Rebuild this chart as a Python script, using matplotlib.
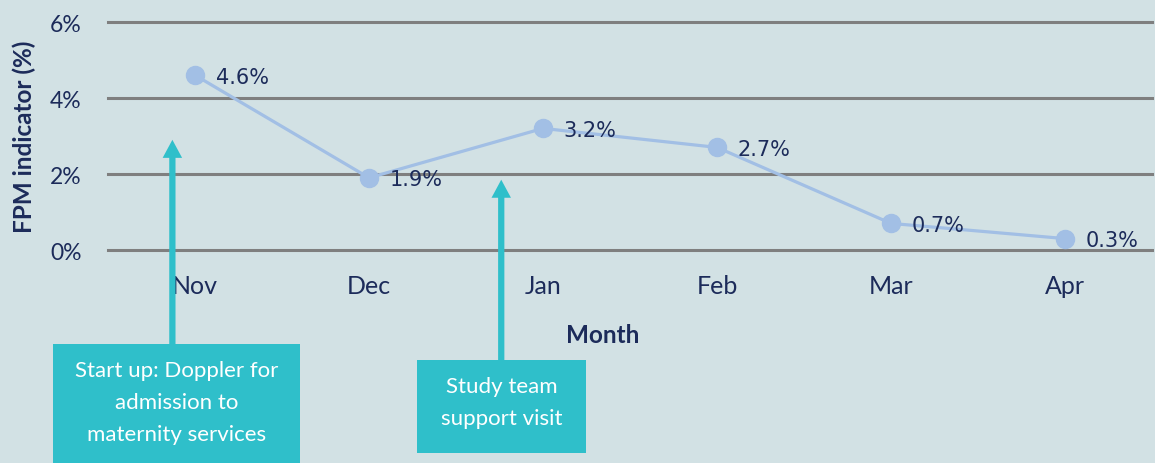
import matplotlib
matplotlib.use("Agg")
import matplotlib.pyplot as plt
from matplotlib.patches import Rectangle
from matplotlib.ticker import FuncFormatter
from matplotlib.transforms import blended_transform_factory

months = ["Nov", "Dec", "Jan", "Feb", "Mar", "Apr"]
fpm = [4.6, 1.9, 3.2, 2.7, 0.7, 0.3]
yticks = [0, 2, 4, 6]

# annotation: text, month it points near, arrow tip value
notes = ["Start up: Doppler for\nadmission to\nmaternity services", "Study team\nsupport visit"]
note_month = [0, 2]
note_tip = [2.9, 1.85]

bg = "#d2e1e4"
navy = "#1c2b5a"
teal = "#2fbfca"
line_col = "#a2bfe5"

W, H = 1155, 464
fig = plt.figure(figsize=(W / 100, H / 100), dpi=100, facecolor=bg)
ax = fig.add_axes([108 / W, 1 - 251 / H, 1044 / W, 228 / H], facecolor=bg)

x = list(range(len(months)))
for yv in yticks:
    ax.axhline(yv, color="#7f7f7f", lw=2.2, zorder=1, clip_on=False)
ax.plot(x, fpm, color=line_col, lw=2.3, marker="o", ms=13, zorder=3)
for xi, v in zip(x, fpm):
    ax.annotate(f"{v}%", (xi, v), xytext=(15, -1), textcoords="offset points",
                ha="left", va="center", fontsize=15, color=navy,
                family="DejaVu Sans", zorder=4)

ax.set_xlim(-0.5, len(months) - 0.5)
ax.set_ylim(0, 6)
ax.set_xticks(x)
ax.set_xticklabels(months, family="Lato", fontsize=18, color=navy)
ax.set_yticks(yticks)
ax.yaxis.set_major_formatter(FuncFormatter(lambda v, p: f"{v:.0f}%"))
for lab in ax.get_yticklabels():
    lab.set_family("Lato")
    lab.set_fontsize(16.5)
    lab.set_color(navy)
ax.tick_params(length=0, axis="x", pad=17)
ax.tick_params(length=0, axis="y", pad=19)
for s in ax.spines.values():
    s.set_visible(False)

ax.set_ylabel("FPM indicator (%)", family="Lato", fontweight="bold",
              fontsize=17.5, color=navy)
ax.yaxis.set_label_coords(-0.069, 0.5)
ax.set_xlabel("Month", family="Lato", fontweight="bold", fontsize=17.5, color=navy)
ax.xaxis.set_label_coords(0.474, -0.32)

# boxes in figure pixels: (left, top, width, height)
boxes = [(53, 345, 247, 130), (417, 361, 169, 93)]
arrow_dx = [-0.13, -0.24]
mixed = blended_transform_factory(ax.transData, fig.transFigure)
for txt, mi, tip, (bl, bt, bw, bh), dx in zip(notes, note_month, note_tip, boxes, arrow_dx):
    fig.add_artist(Rectangle((bl / W, 1 - (bt + bh) / H), bw / W, bh / H,
                             transform=fig.transFigure, facecolor=teal,
                             edgecolor="none", clip_on=False))
    ncl = txt.count("\n") + 1
    cy = bt + (58 if ncl == 3 else bh / 2 - 4)
    fig.text((bl + bw / 2) / W, 1 - cy / H, txt, ha="center", va="center",
             family="Lato", fontsize=16, color="white", linespacing=1.75)
    ax.annotate("", xy=(mi + dx, tip), xycoords="data",
                xytext=(mi + dx, 1 - bt / H), textcoords=mixed,
                arrowprops=dict(arrowstyle="simple,head_length=13,head_width=14,tail_width=4.5",
                                mutation_scale=1, color=teal, lw=0, shrinkA=0, shrinkB=0),
                annotation_clip=False, zorder=2)

fig.savefig("out.png", dpi=100, facecolor=bg)
